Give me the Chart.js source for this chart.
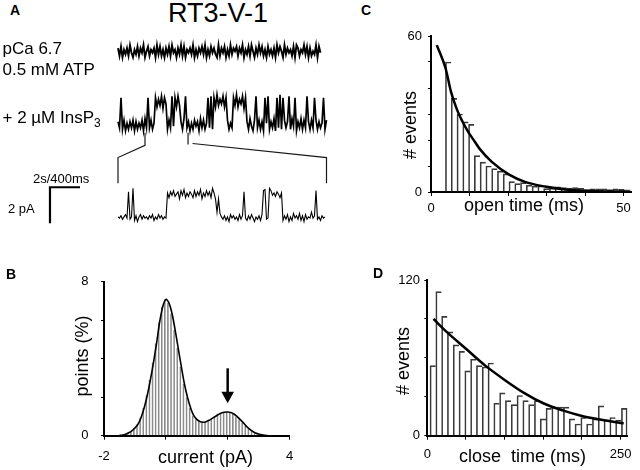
<!DOCTYPE html>
<html>
<head>
<meta charset="utf-8">
<script src="https://cdn.jsdelivr.net/npm/chart.js@4.4.0/dist/chart.umd.min.js"></script>
<style>
  html, body { margin: 0; padding: 0; background: #fff; }
  #fig { position: relative; width: 640px; height: 470px; overflow: hidden;
         font-family: "Liberation Sans", Arial, Helvetica, sans-serif; color: #000; }
  #fig canvas { position: absolute; }
  .t { position: absolute; white-space: pre; line-height: 1; }
  .panel { font-weight: bold; font-size: 14px; }
  .ax { font-size: 18px; transform: translate(-50%, -50%); }
  .vert { font-size: 18px; transform: translate(-50%, -50%) rotate(-90deg); }
  sub { font-size: 12px; vertical-align: -4px; line-height: 0; }
</style>
</head>
<body>
<div id="fig">
  <canvas id="cA" width="335" height="220" style="left:0;top:30px"></canvas>
  <canvas id="cB" width="260" height="200" style="left:40px;top:270px"></canvas>
  <canvas id="cC" width="260" height="200" style="left:380px;top:25px"></canvas>
  <canvas id="cD" width="270" height="202" style="left:370px;top:268px"></canvas>

  <div class="t panel" style="left:10px;top:3px">A</div>
  <div class="t" style="left:218px;top:0;font-size:27px;transform:translateX(-50%)">RT3-V-1</div>
  <div class="t" style="left:2.5px;top:39.6px;font-size:17px">pCa 6.7</div>
  <div class="t" style="left:2.5px;top:60.6px;font-size:17px">0.5 mM ATP</div>
  <div class="t" style="left:2.5px;top:108.9px;font-size:17px">+ 2 µM InsP<sub>3</sub></div>
  <div class="t" style="left:33px;top:171.7px;font-size:13px">2s/400ms</div>
  <div class="t" style="left:8px;top:202.3px;font-size:13px">2 pA</div>

  <div class="t panel" style="left:6px;top:266.5px">B</div>
  <div class="t panel" style="left:361px;top:3.2px">C</div>
  <div class="t panel" style="left:373px;top:266.2px">D</div>

  <div class="t ax" style="left:205.5px;top:457px">current (pA)</div>
  <div class="t vert" style="left:81.5px;top:356px">points (%)</div>
  <div class="t ax" style="left:524px;top:205.2px">open time (ms)</div>
  <div class="t vert" style="left:409.5px;top:125px"># events</div>
  <div class="t ax" style="left:522.5px;top:456px">close  time (ms)</div>
  <div class="t vert" style="left:402.5px;top:360.5px"># events</div>
</div>

<script>
// ---- panel A: single channel records ----
// one char per sample: digits = closed level noise, letters a..j = open level noise
const trace1 = '7281637294' + '1638274915' + '8264719382' + '6173829461' + '7392816473' +
               '9162748391' + '6284731927' + '4816293758' + '2749163829' + '5173948261' +
               '8362719485' + '1937462819' + '7264938172' + '539184';
const trace2 = '73h2816273' + '8172638193' + 'h3826hbgci' + 'ahd283i4hb' + 'ic729i3716' +
               '2847193826' + 'h3i2hbjcgd' + 'ibh8263hcj' + 'bgdiah7294' + '18i38271h6' +
               'i27391h3j2' + 'h837i294h1' + '739283i728' + '3h82736h28';
const trace3 = '5463574g35' + 'j261573645' + '3647253746' + '354fbgdhce' + 'gahdibfcge' +
               'bhcgdiafch' + 'dgbjfa9a85' + '3625174635' + '2736g42637' + '4153627hi3' +
               '4jhdfcgebf' + '2637152846' + '3826173549' + '46h352645';
const dt1 = 0.1, dt2 = 0.1, dt3 = 0.02;          // s per sample
const noise1 = 0.085, noise2 = 0.085, noise3 = 0.065; // pA per code step
const openLevel = 1.33;                          // pA

// expanded window of trace 2 shown as trace 3 (s)
const zoomStart = 1.8, zoomEnd = 4.67, zoomSpan = 2.78;
// scale bar: 400 ms / 2 pA on the expanded trace
const barT = -0.907, barTop = 1.68, barLenT = 0.4, barLenI = 2;

// ---- panel B: all-points current histogram ----
const currentBins = [-1.5, -1.4, -1.3, -1.2, -1.1, -1.0, -0.9, -0.8, -0.7, -0.6, -0.5, -0.4, -0.3, -0.2, -0.1,
  0, 0.1, 0.2, 0.3, 0.4, 0.5, 0.6, 0.7, 0.8, 0.9, 1.0, 1.1, 1.2, 1.3, 1.4, 1.5, 1.6, 1.7, 1.8, 1.9,
  2.0, 2.1, 2.2, 2.3, 2.4, 2.5, 2.6, 2.7, 2.8, 2.9, 3.0, 3.1, 3.2, 3.3];
const pointsPct = [0.02, 0.04, 0.08, 0.15, 0.25, 0.4, 0.6, 0.95, 1.45, 2.1, 2.9, 3.8, 4.8, 5.9, 6.7,
  7.08, 6.9, 6.35, 5.5, 4.55, 3.6, 2.7, 2.0, 1.45, 1.05, 0.85, 0.74, 0.7, 0.73, 0.8, 0.9, 1.0, 1.1, 1.18, 1.22,
  1.23, 1.2, 1.13, 1.0, 0.85, 0.68, 0.5, 0.35, 0.23, 0.14, 0.09, 0.05, 0.02, 0.01];
const arrowAt = 2, arrowFrom = 3.5, arrowTo = 1.68;

// ---- panel C: open time histogram + fit ----
const openBins = [4.5, 6, 7.5, 9, 10.5, 12, 13.5, 15, 16.5, 18, 19.5, 21, 22.5, 24, 25.5, 27,
  28.5, 30, 31.5, 33, 34.5, 36, 37.5, 39, 40.5, 42, 43.5, 45, 46.5, 48, 49.5, 51];
const openCounts = [50, 36, 30, 27, 26, 14, 11.5, 10, 9, 8, 7, 4, 3.2, 3.6, 2.6, 2.2,
  2.3, 1.3, 1.5, 2.0, 1.7, 1.5, 1.7, 1.4, 0.9, 1.2, 1.2, 1.2, 0.9, 1.2, 1.0, 0.8];
const openFitT = [1.5, 3.8, 5.2, 6.8, 8.2, 9.7, 11.3, 12.7, 15.8, 20.3, 24.4, 29.6, 34.8, 41.7, 50.4];
const openFitN = [56.5, 47.5, 38.5, 31.5, 27, 23, 19.5, 16.5, 11.6, 6.7, 3.9, 2.1, 1.0, 0.4, 0.15];

// ---- panel D: close time histogram + fit ----
const closeBins = [7.25, 14.75, 22.25, 29.75, 37.25, 44.75, 52.25, 59.75, 67.25, 74.75, 82.25, 89.75,
  97.25, 104.75, 112.25, 119.75, 127.25, 134.75, 142.25, 149.75, 157.25, 164.75, 172.25, 179.75,
  187.25, 194.75, 202.25, 209.75, 217.25, 224.75, 232.25, 239.75, 247.25, 254.75];
const closeCounts = [54, 111, 92, 80, 70, 65, 50, 59, 54, 53, 56, 25, 33, 27, 24, 31, 27, 24,
  27, 13, 21, 22, 22, 22, 13, 9, 14, 9, 13, 23, 12, 14, 12, 21];
const closeFitT = [8, 25, 50, 75, 100, 125, 150, 175, 200, 225, 254];
const closeFitN = [90, 80, 67, 54, 43, 33, 25, 19.5, 15.2, 12.3, 9.5];

Chart.defaults.font.family = '"Liberation Sans", Arial, Helvetica, sans-serif';
Chart.defaults.color = '#000';

function decodeTrace(codes, dt, noise) {
  return codes.split('').map((c, i) => {
    const open = c >= 'a';
    const n = open ? c.charCodeAt(0) - 97 : +c;
    return { x: i * dt, y: (open ? openLevel : 0) + (n - 4.5) * noise };
  });
}
const pairs = (xs, ys) => xs.map((x, i) => ({ x, y: ys[i] }));

// ---------- A ----------
const aTop = 30, aH = 220, aW = 335, traceLeft = 118, pxPerPA = 18;
const xRange = pxPerS => ({ min: -traceLeft / pxPerS, max: (aW - traceLeft) / pxPerS });
const yRange = basePx => ({ min: -(aTop + aH - basePx) / pxPerPA, max: (basePx - aTop) / pxPerPA });

const zoomLinks = {
  id: 'zoomLinks',
  afterDatasetsDraw(chart) {
    const { ctx, scales } = chart;
    const px = (id, v) => scales[id].getPixelForValue(v);
    ctx.save();
    ctx.strokeStyle = '#1a1a1a';
    ctx.lineWidth = 1.2;
    ctx.beginPath();
    ctx.moveTo(px('x', zoomStart), px('y2', -0.4));
    ctx.lineTo(px('x', zoomStart), px('y2', -1.1));
    ctx.lineTo(px('x3', 0), px('y3', 3.33));
    ctx.lineTo(px('x3', 0), px('y3', 1.9));
    ctx.moveTo(px('x', zoomEnd), px('y2', -0.4));
    ctx.lineTo(px('x', zoomEnd), px('y2', -1.05));
    ctx.moveTo(px('x', zoomEnd + 0.3), px('y2', -1.0));
    ctx.lineTo(px('x3', zoomSpan), px('y3', 3.33));
    ctx.lineTo(px('x3', zoomSpan), px('y3', 1.9));
    ctx.stroke();
    ctx.restore();
  }
};

const traceDs = (data, xid, yid, w) => ({
  data, xAxisID: xid, yAxisID: yid, borderColor: '#000', borderWidth: w,
  pointRadius: 0, tension: 0
});

new Chart(document.getElementById('cA'), {
  type: 'line',
  data: {
    datasets: [
      traceDs(decodeTrace(trace1, dt1, noise1), 'x', 'y1', 1.9),
      traceDs(decodeTrace(trace2, dt2, noise2), 'x', 'y2', 1.7),
      traceDs(decodeTrace(trace3, dt3, noise3), 'x3', 'y3', 1.1),
      { data: [{ x: barT + barLenT, y: barTop }, { x: barT, y: barTop }, { x: barT, y: barTop - barLenI }],
        xAxisID: 'x3', yAxisID: 'y3', borderColor: '#000', borderWidth: 2.2, pointRadius: 0,
        borderJoinStyle: 'miter' }
    ]
  },
  options: {
    responsive: false, animation: false, devicePixelRatio: 1,
    layout: { padding: 0 },
    plugins: { legend: { display: false }, tooltip: { enabled: false } },
    scales: {
      x: { type: 'linear', display: false, ...xRange(15) },
      x3: { type: 'linear', axis: 'x', display: false, ...xRange(75) },
      y1: { type: 'linear', axis: 'y', display: false, ...yRange(52) },
      y2: { type: 'linear', axis: 'y', display: false, ...yRange(125.5) },
      y3: { type: 'linear', axis: 'y', display: false, ...yRange(217.5) }
    }
  },
  plugins: [zoomLinks]
});

// ---------- histogram panels ----------
function xAxis(min, max, step, labels, height, pad) {
  return {
    type: 'linear', min, max, offset: false,
    border: { display: true, color: '#000', width: 2 },
    grid: { display: true, drawOnChartArea: false, drawTicks: true, tickLength: 4, color: '#000', offset: false },
    ticks: { stepSize: step, includeBounds: false, autoSkip: false, maxRotation: 0, padding: pad,
             font: { size: 13 }, callback: v => labels.includes(v) ? String(v) : '' },
    afterFit: s => { s.height = height; s.paddingLeft = 0; s.paddingRight = 0; }
  };
}
function yAxis(min, max, step, labels, width, pad) {
  return {
    type: 'linear', min, max,
    border: { display: true, color: '#000', width: 2 },
    grid: { display: true, drawOnChartArea: false, drawTicks: true, tickLength: 3, color: '#000' },
    ticks: { stepSize: step, autoSkip: false, padding: pad,
             font: { size: 13 }, callback: v => labels.includes(v) ? String(v) : '' },
    afterFit: s => { s.width = width; s.paddingTop = 0; s.paddingBottom = 0; }
  };
}
const baseOpts = (padding, scales) => ({
  responsive: false, animation: false, devicePixelRatio: 1,
  layout: { padding },
  plugins: { legend: { display: false }, tooltip: { enabled: false } },
  scales
});

const downArrow = {
  id: 'downArrow',
  afterDatasetsDraw(chart) {
    const { ctx, scales } = chart;
    const x = scales.x.getPixelForValue(arrowAt);
    const y0 = scales.y.getPixelForValue(arrowFrom);
    const y1 = scales.y.getPixelForValue(arrowTo);
    ctx.save();
    ctx.strokeStyle = '#000';
    ctx.fillStyle = '#000';
    ctx.lineWidth = 2.5;
    ctx.beginPath(); ctx.moveTo(x, y0); ctx.lineTo(x, y1 - 8); ctx.stroke();
    ctx.beginPath();
    ctx.moveTo(x - 6.3, y1 - 11.5);
    ctx.lineTo(x + 6.3, y1 - 11.5);
    ctx.lineTo(x, y1);
    ctx.closePath();
    ctx.fill();
    ctx.restore();
  }
};

// B
new Chart(document.getElementById('cB'), {
  type: 'bar',
  data: {
    datasets: [
      { type: 'line', data: pairs(currentBins, pointsPct), borderColor: '#000', borderWidth: 1.6,
        pointRadius: 0, tension: 0.35, order: 0 },
      { type: 'bar', data: pairs(currentBins, pointsPct), backgroundColor: 'rgba(0,0,0,0)',
        borderColor: '#8a8a8a', borderWidth: { left: 1, right: 0, top: 0, bottom: 0 },
        barPercentage: 1, categoryPercentage: 1, order: 1 }
    ]
  },
  options: baseOpts({ top: 11.7, right: 10.5, left: 0, bottom: 0 }, {
    x: xAxis(-2, 4, 2, [-2, 4], 34.3, 9),
    y: yAxis(0, 8, 2, [0, 8], 64, 12.5)
  }),
  plugins: [downArrow]
});

const barBorder = n => ctx => ({ left: 1, top: 1, right: ctx.dataIndex === n - 1 ? 1 : 0, bottom: 0 });

// C
new Chart(document.getElementById('cC'), {
  type: 'bar',
  data: {
    datasets: [
      { type: 'line', data: pairs(openFitT, openFitN), borderColor: '#000', borderWidth: 2.5,
        pointRadius: 0, cubicInterpolationMode: 'monotone', order: 0 },
      { type: 'bar', data: pairs(openBins, openCounts), backgroundColor: 'rgba(0,0,0,0)',
        borderColor: '#3a3a3a', borderWidth: barBorder(openBins.length),
        barPercentage: 1, categoryPercentage: 1, order: 1 }
    ]
  },
  options: baseOpts({ top: 11, right: 8.8, left: 0, bottom: 0 }, {
    x: xAxis(0, 52, 10, [0, 50], 33, 5),
    y: yAxis(0, 60, 10, [0, 60], 51, 6)
  })
});

// D
new Chart(document.getElementById('cD'), {
  type: 'bar',
  data: {
    datasets: [
      { type: 'line', data: pairs(closeFitT, closeFitN), borderColor: '#000', borderWidth: 2.5,
        pointRadius: 0, cubicInterpolationMode: 'monotone', order: 0 },
      { type: 'bar', data: pairs(closeBins, closeCounts), backgroundColor: 'rgba(0,0,0,0)',
        borderColor: '#3a3a3a', borderWidth: barBorder(closeBins.length),
        barPercentage: 1, categoryPercentage: 1, order: 1 }
    ]
  },
  options: baseOpts({ top: 12, right: 12.4, left: 0, bottom: 0 }, {
    x: xAxis(0, 259, 50, [0, 250], 34.3, 7),
    y: yAxis(0, 120, 30, [0, 120], 57.3, 4.3)
  })
});
</script>
</body>
</html>
